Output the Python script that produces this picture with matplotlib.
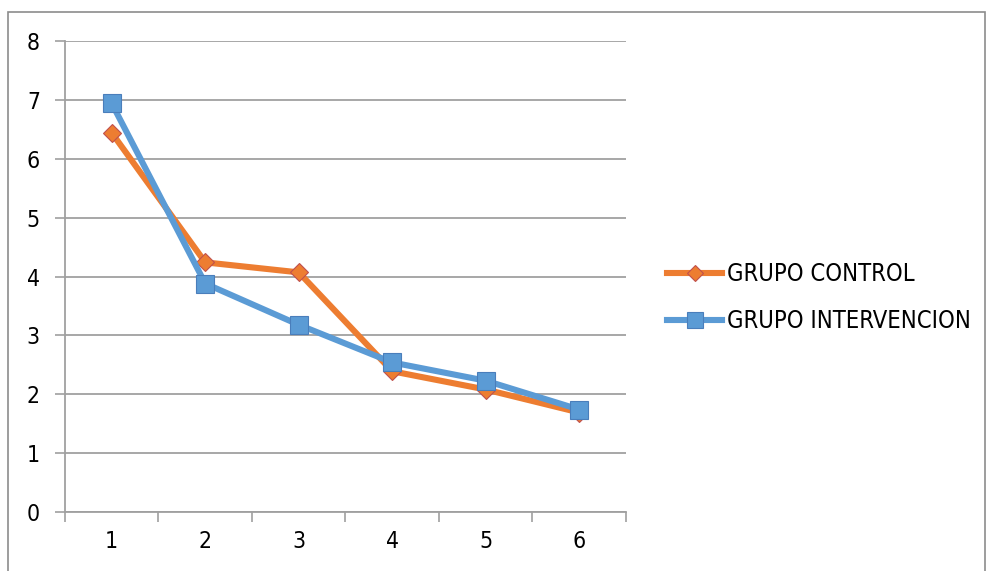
import matplotlib
matplotlib.use("Agg")
import matplotlib.pyplot as plt
from matplotlib.patches import Rectangle
from matplotlib.font_manager import FontProperties

categories = [1, 2, 3, 4, 5, 6]
grupo_control = [6.44, 4.24, 4.07, 2.39, 2.08, 1.69]
grupo_intervencion = [6.94, 3.88, 3.18, 2.54, 2.23, 1.74]

plt.rcParams["font.family"] = ["DejaVu Sans Condensed", "DejaVu Sans"]
plt.rcParams["font.stretch"] = "condensed"

fig = plt.figure(figsize=(9.87, 5.71), dpi=100)
ax = fig.add_axes([65 / 987, 1 - 512 / 571, (626 - 65) / 987, (512 - 41) / 571])

# outer chart border
fig.patches.append(Rectangle((8 / 987, -0.05), (985 - 8) / 987, 1 - 12 / 571 + 0.05,
                             transform=fig.transFigure, fill=False,
                             edgecolor="#8c8c8c", linewidth=1.2))

ax.plot(categories, grupo_control, color="#ED7D31", linewidth=4.4,
        marker="D", markersize=9.5, markerfacecolor="#ED7D31",
        markeredgecolor="#C0504D", markeredgewidth=0.8,
        label="GRUPO CONTROL", zorder=3)
ax.plot(categories, grupo_intervencion, color="#5B9BD5", linewidth=4.4,
        marker="s", markersize=13, markerfacecolor="#5B9BD5",
        markeredgecolor="#4A7EBB", markeredgewidth=0.8,
        label="GRUPO INTERVENCION", zorder=4)

ax.set_xlim(0.5, 6.5)
ax.set_ylim(0, 8)
ax.set_yticks(range(0, 9))
ax.grid(axis="y", color="#a0a0a0", linewidth=1.3)
ax.set_axisbelow(True)

# boundary ticks between categories, labels at the centers
ax.set_xticks([c - 0.5 for c in categories] + [6.5])
ax.set_xticklabels([])
ax.set_xticks(categories, minor=True)
ax.set_xticklabels([str(c) for c in categories], minor=True)
ax.tick_params(axis="x", which="major", length=7, width=1.2, color="#a0a0a0", direction="out")
ax.tick_params(axis="x", which="minor", length=0, pad=13, labelsize=16.5)
ax.tick_params(axis="y", length=7, width=1.2, color="#a0a0a0", pad=11, labelsize=16.5)

for side in ["top", "right"]:
    ax.spines[side].set_visible(False)
for side in ["left", "bottom"]:
    ax.spines[side].set_color("#a0a0a0")
    ax.spines[side].set_linewidth(1.3)

leg = ax.legend(loc="center left", bbox_to_anchor=(1.056, 0.455), frameon=False,
                prop=FontProperties(family=["DejaVu Sans Condensed", "DejaVu Sans"],
                                    stretch="condensed", size=17),
                handlelength=2.35, handletextpad=0.2, markerscale=0.85,
                labelspacing=0.95, borderaxespad=0)

fig.savefig("out.png", dpi=100)
